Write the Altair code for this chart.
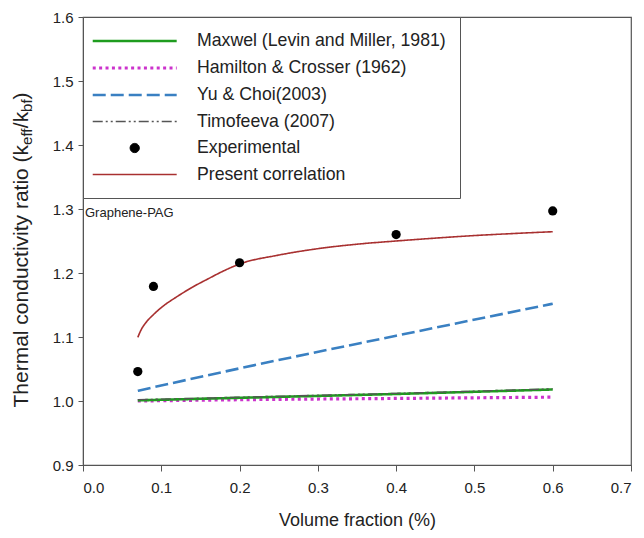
import altair as alt
import pandas as pd

# ---- data ----
series_names = [
    "Maxwel (Levin and Miller, 1981)",
    "Hamilton & Crosser (1962)",
    "Yu & Choi(2003)",
    "Timofeeva (2007)",
    "Experimental",
    "Present correlation",
]
series_colors = ["#1f9c1f", "#cc33cc", "#3a80c2", "#555555", "#000000", "#a83030"]

model_x = [0.07, 0.2, 0.4, 0.6]
maxwell_y = [1.001, 1.005, 1.011, 1.018]
hamilton_y = [1.000, 1.002, 1.004, 1.006]
yu_choi_y = [1.016, 1.051, 1.102, 1.152]
timofeeva_y = [1.002, 1.006, 1.012, 1.019]

present_x = [0.07, 0.075, 0.08, 0.09, 0.1, 0.12, 0.14, 0.16, 0.18, 0.2,
             0.25, 0.3, 0.35, 0.4, 0.45, 0.5, 0.55, 0.6]
present_y = [1.0995, 1.113, 1.122, 1.135, 1.146, 1.163, 1.178, 1.191, 1.2035, 1.214,
             1.228, 1.238, 1.245, 1.250, 1.2545, 1.2585, 1.2617, 1.2645]

exp_x = [0.07, 0.09, 0.2, 0.4, 0.6]
exp_y = [1.046, 1.179, 1.216, 1.260, 1.297]

x_ticks = [0.0, 0.1, 0.2, 0.3, 0.4, 0.5, 0.6, 0.7]
y_ticks = [0.9, 1.0, 1.1, 1.2, 1.3, 1.4, 1.5, 1.6]
annotation = ["Graphene-PAG"]
y_title_parts = ["Thermal conductivity ratio (k", "eff", "/k", "bf", ")"]
y_title_sub = [False, True, False, True, False]

# ---- build tables ----
rows = []
line_order = [1, 0, 3, 2, 5]  # drawing order
line_vals = {0: (model_x, maxwell_y), 1: (model_x, hamilton_y), 2: (model_x, yu_choi_y),
             3: (model_x, timofeeva_y), 5: (present_x, present_y)}
for rank, i in enumerate(line_order):
    xs, ys = line_vals[i]
    for xv, yv in zip(xs, ys):
        rows.append({"series": series_names[i], "x": xv, "y": yv, "order": rank})
lines_df = pd.DataFrame(rows)
exp_df = pd.DataFrame({"series": series_names[4], "x": exp_x, "y": exp_y})
legend_df = pd.DataFrame({"series": series_names, "x": [None] * 6, "y": [None] * 6})
ann_df = pd.DataFrame({"label": annotation})

FONT = "Liberation Sans"
dash_range = [[1, 0], [3, 3.4], [13, 5], [10, 3, 2, 3, 2, 3], [1, 0], [1, 0]]
width_range = [2.6, 3.2, 2.6, 1.3, 1.0, 1.6]
LINE_SYM = "M-1.7,0H8.3"
DOT_SYM = "M2.75,0A0.55,0.55 0 1,1 3.85,0A0.55,0.55 0 1,1 2.75,0Z"
shape_range = [LINE_SYM, LINE_SYM, LINE_SYM, LINE_SYM, DOT_SYM, LINE_SYM]


def legend():
    return alt.Legend(
        title=None,
        orient="none",
        legendX=0,
        legendY=0,
        strokeColor="#555555",
        fillColor="white",
        padding=14,
        symbolSize=282,
        labelFont=FONT,
        labelFontSize=17.7,
        labelColor="#222222",
        labelOffset=80,
        labelLimit=400,
        rowPadding=8,
    )


color_scale = alt.Scale(domain=series_names, range=series_colors)

x_axis = alt.Axis(
    values=x_ticks, format=".1f", grid=False, tickSize=6, tickColor="#555555",
    domainColor="#555555", labelFont=FONT, labelFontSize=15, labelColor="#222222",
    labelPadding=9, title="Volume fraction (%)", titleFont=FONT, titleFontSize=18,
    titleFontWeight="normal", titleColor="#222222", titleX=274, titleY=55,
    titleBaseline="middle",
)
y_axis = alt.Axis(
    values=y_ticks, format=".1f", grid=False, tickSize=5, tickColor="#555555",
    domainColor="#555555", labelFont=FONT, labelFontSize=15, labelColor="#222222",
    labelPadding=5, title=None,
)

x_enc = alt.X("x:Q", scale=alt.Scale(domain=[0, 0.7], nice=False), axis=x_axis)
y_enc = alt.Y("y:Q", scale=alt.Scale(domain=[0.9, 1.6], nice=False), axis=y_axis)

lines = alt.Chart(lines_df).mark_line(clip=True, interpolate="monotone").encode(
    x=x_enc,
    y=y_enc,
    color=alt.Color("series:N", scale=color_scale, legend=legend()),
    strokeDash=alt.StrokeDash("series:N", scale=alt.Scale(domain=series_names, range=dash_range), legend=legend()),
    strokeWidth=alt.StrokeWidth("series:N", scale=alt.Scale(type="ordinal", domain=series_names, range=width_range), legend=legend()),
    order="order:Q",
    detail="series:N",
)

points = alt.Chart(exp_df).mark_point(filled=True, opacity=1, size=85).encode(
    x="x:Q",
    y="y:Q",
    color=alt.Color("series:N", scale=color_scale, legend=legend()),
)

legend_layer = alt.Chart(legend_df).mark_point(filled=True, opacity=1).encode(
    x="x:Q",
    y="y:Q",
    color=alt.Color("series:N", scale=color_scale, legend=legend()),
    shape=alt.Shape("series:N", scale=alt.Scale(domain=series_names, range=shape_range), legend=legend()),
)

ann = alt.Chart(ann_df).mark_text(
    align="left", baseline="middle", font=FONT, fontSize=13, color="#222222"
).encode(x=alt.value(2), y=alt.value(196), text="label:N")

# y-axis title with subscripts, built from rotated text pieces
MAIN_FS, SUB_FS = 21, 15
piece_widths = [262.6, 16.7, 16.3, 12.5, 7.0]
title_layers = []
start = 390.5
for txt, is_sub, w in zip(y_title_parts, y_title_sub, piece_widths):
    title_layers.append(
        alt.Chart(pd.DataFrame({"t": [txt]})).mark_text(
            align="left", baseline="alphabetic", angle=270, font=FONT,
            fontSize=SUB_FS if is_sub else MAIN_FS, color="#222222",
        ).encode(x=alt.value(-51 if is_sub else -55), y=alt.value(start), text="t:N")
    )
    start -= w

chart = alt.layer(lines, points, legend_layer, ann, *title_layers).properties(
    width=548,
    height=448,
    autosize=alt.AutoSizeParams(type="none"),
    padding={"left": 83, "top": 17, "right": 13, "bottom": 73},
    background="white",
).configure_view(stroke="#555555", strokeWidth=1.2)

chart.save("out.html", embed_options={"renderer": "svg", "actions": False})
